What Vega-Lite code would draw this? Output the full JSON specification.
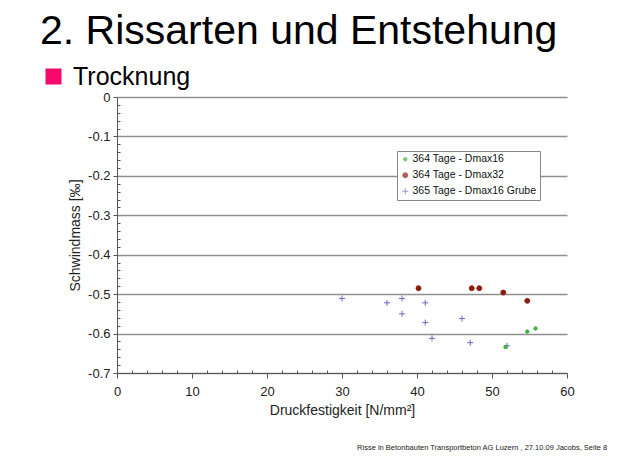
{
  "$schema": "https://vega.github.io/schema/vega-lite/v6.json",
  "background": "white",
  "padding": {"left": 40, "top": 11, "right": 8, "bottom": 4},
  "config": {
    "font": "Liberation Sans",
    "view": {"stroke": null},
    "concat": {"spacing": 0}
  },
  "title": {
    "text": "2. Rissarten und Entstehung",
    "anchor": "start",
    "fontSize": 41,
    "fontWeight": "normal",
    "font": "Liberation Sans",
    "color": "#000000",
    "dx": -1,
    "offset": 11
  },
  "vconcat": [
    {
      "width": 450,
      "height": 276,
      "title": {
        "text": "Risse in Betonbauten  Transportbeton AG Luzern , 27.10.09  Jacobs, Seite 8",
        "orient": "bottom",
        "anchor": "end",
        "fontSize": 7.5,
        "fontWeight": "normal",
        "color": "#222222",
        "dx": 33,
        "offset": 27
      },
      "data": {
        "values": [
          {"Serie": "365 Tage - Dmax16 Grube", "Druckfestigkeit": 30.0, "Schwindmass": -0.511},
          {"Serie": "365 Tage - Dmax16 Grube", "Druckfestigkeit": 36.0, "Schwindmass": -0.522},
          {"Serie": "365 Tage - Dmax16 Grube", "Druckfestigkeit": 38.0, "Schwindmass": -0.511},
          {"Serie": "365 Tage - Dmax16 Grube", "Druckfestigkeit": 38.0, "Schwindmass": -0.55},
          {"Serie": "365 Tage - Dmax16 Grube", "Druckfestigkeit": 41.1, "Schwindmass": -0.522},
          {"Serie": "365 Tage - Dmax16 Grube", "Druckfestigkeit": 41.1, "Schwindmass": -0.572},
          {"Serie": "365 Tage - Dmax16 Grube", "Druckfestigkeit": 42.0, "Schwindmass": -0.612},
          {"Serie": "365 Tage - Dmax16 Grube", "Druckfestigkeit": 46.0, "Schwindmass": -0.562},
          {"Serie": "365 Tage - Dmax16 Grube", "Druckfestigkeit": 47.1, "Schwindmass": -0.623},
          {"Serie": "365 Tage - Dmax16 Grube", "Druckfestigkeit": 52.0, "Schwindmass": -0.631},
          {"Serie": "364 Tage - Dmax32", "Druckfestigkeit": 40.2, "Schwindmass": -0.485},
          {"Serie": "364 Tage - Dmax32", "Druckfestigkeit": 47.3, "Schwindmass": -0.485},
          {"Serie": "364 Tage - Dmax32", "Druckfestigkeit": 48.3, "Schwindmass": -0.485},
          {"Serie": "364 Tage - Dmax32", "Druckfestigkeit": 51.5, "Schwindmass": -0.496},
          {"Serie": "364 Tage - Dmax32", "Druckfestigkeit": 54.7, "Schwindmass": -0.517},
          {"Serie": "364 Tage - Dmax16", "Druckfestigkeit": 51.8, "Schwindmass": -0.634},
          {"Serie": "364 Tage - Dmax16", "Druckfestigkeit": 54.7, "Schwindmass": -0.595},
          {"Serie": "364 Tage - Dmax16", "Druckfestigkeit": 55.8, "Schwindmass": -0.587}
        ]
      },
      "mark": {"type": "point", "filled": true, "strokeWidth": 1},
      "encoding": {
        "x": {
          "field": "Druckfestigkeit",
          "type": "quantitative",
          "scale": {"domain": [0, 60], "nice": false, "zero": false},
          "axis": {
            "title": "Druckfestigkeit [N/mm²]",
            "values": [0,2,4,6,8,10,12,14,16,18,20,22,24,26,28,30,32,34,36,38,40,42,44,46,48,50,52,54,56,58,60],
            "labelExpr": "datum.value % 10 === 0 ? datum.label : ''",
            "labelOverlap": false,
            "labelFlush": false,
            "labelFontSize": 13,
            "labelColor": "#222222",
            "labelPadding": 7,
            "grid": false,
            "domainColor": "#555555",
            "tickColor": "#555555",
            "tickSize": {"condition": {"test": "datum.value % 10 === 0", "value": 5}, "value": -3},
            "titleFontSize": 14,
            "titleFontWeight": "normal",
            "titleColor": "#222222",
            "titlePadding": 5
          }
        },
        "y": {
          "field": "Schwindmass",
          "type": "quantitative",
          "scale": {"domain": [-0.7, 0], "nice": false, "zero": false},
          "axis": {
            "title": "Schwindmass [‰]",
            "values": [0,-0.02,-0.04,-0.06,-0.08,-0.1,-0.12,-0.14,-0.16,-0.18,-0.2,-0.22,-0.24,-0.26,-0.28,-0.3,-0.32,-0.34,-0.36,-0.38,-0.4,-0.42,-0.44,-0.46,-0.48,-0.5,-0.52,-0.54,-0.56,-0.58,-0.6,-0.62,-0.64,-0.66,-0.68,-0.7],
            "labelExpr": "abs(round(datum.value*50)) % 5 === 0 ? replace(format(datum.value, '.1~f'), '−', '-') : ''",
            "labelOverlap": false,
            "labelFlush": false,
            "labelFontSize": 13,
            "labelColor": "#222222",
            "labelPadding": 3,
            "grid": true,
            "gridColor": "#8f8f8f",
            "gridWidth": 1.5,
            "gridOpacity": {"condition": {"test": "abs(round(datum.value*50)) % 5 === 0", "value": 1}, "value": 0},
            "domainColor": "#555555",
            "tickColor": "#555555",
            "tickSize": {"condition": {"test": "abs(round(datum.value*50)) % 5 === 0", "value": 4}, "value": -3},
            "titleFontSize": 14,
            "titleFontWeight": "normal",
            "titleColor": "#222222",
            "titlePadding": 5
          }
        },
        "color": {
          "field": "Serie",
          "type": "nominal",
          "scale": {
            "domain": ["364 Tage - Dmax16", "364 Tage - Dmax32", "365 Tage - Dmax16 Grube"],
            "range": ["#3fb13f", "#8a1d10", "#6a6ac6"]
          },
          "legend": {
            "title": null,
            "orient": "none",
            "legendX": 280,
            "legendY": 54,
            "fillColor": "white",
            "strokeColor": "#888888",
            "padding": 3,
            "labelFontSize": 10.5,
            "labelColor": "#111111",
            "labelOffset": 2,
            "rowPadding": 5,
            "symbolStrokeWidth": 1
          }
        },
        "stroke": {
          "field": "Serie",
          "type": "nominal",
          "scale": {
            "domain": ["364 Tage - Dmax16", "364 Tage - Dmax32", "365 Tage - Dmax16 Grube"],
            "range": ["#3fb13f", "#8a1d10", "#6a6ac6"]
          }
        },
        "shape": {
          "field": "Serie",
          "type": "nominal",
          "scale": {
            "domain": ["364 Tage - Dmax16", "364 Tage - Dmax32", "365 Tage - Dmax16 Grube"],
            "range": ["circle", "circle", "M-1,0L1,0M0,-1L0,1"]
          }
        },
        "size": {
          "field": "Serie",
          "type": "nominal",
          "scale": {
            "domain": ["364 Tage - Dmax16", "364 Tage - Dmax32", "365 Tage - Dmax16 Grube"],
            "range": [12, 36, 80]
          }
        },
        "opacity": {
          "datum": "Trocknung",
          "type": "nominal",
          "scale": {"range": [1, 1]},
          "legend": {
            "title": null,
            "orient": "none",
            "legendX": -76,
            "legendY": -33,
            "padding": 0,
            "symbolType": "square",
            "symbolSize": 256,
            "symbolFillColor": "#f7086c",
            "symbolStrokeColor": "#f7086c",
            "symbolStrokeWidth": 0,
            "symbolOpacity": 1,
            "labelFontSize": 25,
            "labelColor": "#000000",
            "labelOffset": 7
          }
        }
      }
    }
  ]
}
